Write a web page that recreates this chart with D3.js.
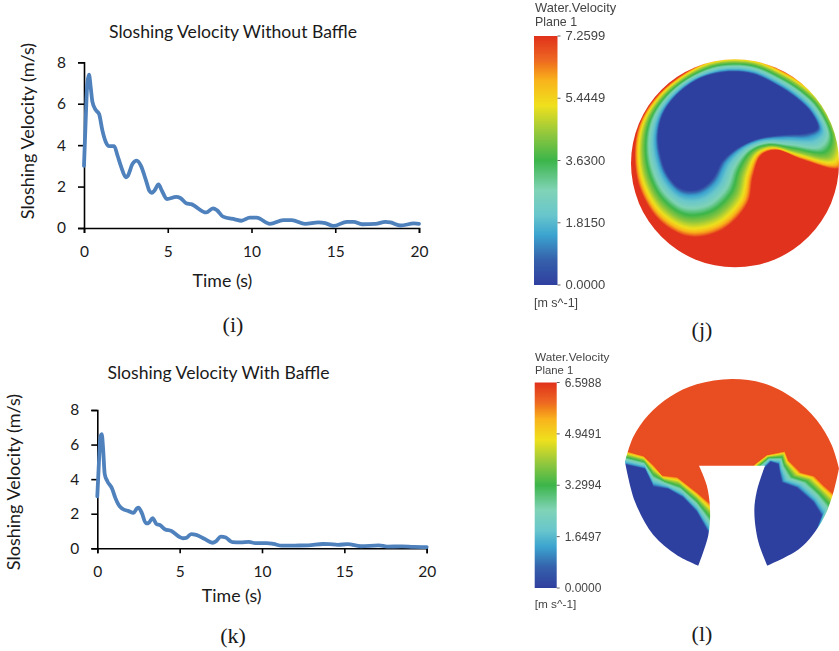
<!DOCTYPE html>
<html><head><meta charset="utf-8">
<script src="https://cdn.jsdelivr.net/npm/d3@7"></script>
<style>html,body{margin:0;padding:0;background:#fff}svg{display:block}</style>
</head><body><svg id="c" width="839" height="651"></svg>
<script>
// ---- line chart data ----
const timeNoBaffle=[0,.1,.2,.3,.4,.5,.7,.9,1.1,1.3,1.5,1.8,2,2.2,2.5,2.6,2.9,3.15,3.4,3.7,3.9,4.05,4.2,4.45,4.65,4.95,5.5,5.75,6.1,6.4,7.3,7.7,7.95,8.3,9,9.4,9.9,10.3,11.1,11.9,12.4,13.2,14,14.4,14.9,15.7,16.1,16.6,17.4,18,18.3,18.9,19.7,20];
const velNoBaffle=[3,5.2,7,7.4,6.8,6.1,5.7,5.5,4.7,4.15,3.95,3.95,3.5,3,2.45,2.5,3.1,3.25,3,2.3,1.8,1.7,1.8,2.1,1.8,1.4,1.5,1.45,1.2,1.15,.75,.95,.85,.55,.42,.35,.5,.5,.2,.38,.38,.2,.27,.24,.1,.3,.3,.18,.2,.3,.27,.12,.22,.2];
const timeBaffle=[0,.1,.2,.27,.35,.45,.6,.9,1.1,1.3,1.5,1.9,2.2,2.4,2.5,2.7,2.95,3.1,3.35,3.6,3.8,4.1,4.5,5,5.2,5.4,5.7,6,6.5,7,7.2,7.5,7.8,8.2,8.7,9.2,9.6,10.3,10.7,11.2,12,12.8,13.7,14.1,14.6,15.2,16,17.1,17.6,18.5,19.2,20];
const velBaffle=[3,5,6.5,6.6,5.8,4.3,3.9,3.45,2.9,2.5,2.3,2.15,2.05,2.3,2.35,2.05,1.45,1.45,1.75,1.4,1.35,1.1,1,.65,.58,.6,.82,.78,.55,.32,.4,.68,.62,.36,.34,.37,.3,.3,.25,.15,.16,.17,.25,.24,.2,.24,.12,.17,.1,.11,.08,.07];
const xTicks=[0,5,10,15,20], yTicks=[0,2,4,6,8];
// ---- colour legend ----
const legendStops=[0,.1,.2,.28,.38,.5,.6,.72,.82,.9,1];
const fieldStops=[0,.05,.12,.24,.4,.54,.68,.82,.9,.96,1];
const legendColors=["#2f3f9f","#3560ab","#3ba3cf","#68c6cc","#80d3b6","#3cb54a","#8cc63f","#efe01e","#f9b41a","#ee6a20","#e0301f"];
const legendJ=["0.0000","1.8150","3.6300","5.4449","7.2599"];
const legendL=["0.0000","1.6497","3.2994","4.9491","6.5988"];
// ---- contour field outlines, plate units ----
const jBlue=[[640,215],[700,222],[770,255],[830,295],[875,340],[893,385],[860,400],[790,405],[720,415],[660,440],[610,480],[575,540],[530,570],[480,565],[440,520],[420,460],[415,400],[430,340],[470,285],[530,240],[590,220]];
const jRed=[[640,172],[715,180],[795,215],[860,255],[915,310],[972,440],[962,505],[850,480],[770,450],[725,465],[700,530],[685,610],[610,690],[510,712],[420,665],[360,570],[343,470],[355,380],[400,300],[470,235],[560,185]];
const lShapePieces=[
 [[537,362],[560,420],[570,490],[565,570],[535,662]],
 [[535,662],[470,630],[400,570],[345,470],[315,350]],
 [[315,350],[340,275],[385,210],[450,155],[530,118],[635,102],[730,115],[820,160],[890,225],[935,300],[957,370]],
 [[957,370],[938,450],[905,530],[840,610],[742,662]],
 [[742,662],[715,590],[703,500],[710,440],[735,362]]];
const lBlueLeft=[[300,355],[375,372],[400,425],[445,432],[490,458],[530,500],[575,580],[575,700],[300,700]];
const lRedLeft=[[300,312],[370,332],[400,358],[425,390],[470,394],[530,440],[585,485],[590,700],[300,700]];
const lBlueRight=[[738,365],[752,350],[775,358],[778,378],[785,412],[830,428],[880,472],[905,512],[880,575],[830,700],[700,700],[690,400]];
const lRedRight=[[703,358],[740,330],[795,318],[806,345],[845,382],[885,392],[912,420],[948,450],[948,500],[912,560],[860,700],[670,400]];

const svg=d3.select("#c");
const sans="Lato, 'Open Sans', sans-serif", serif="'Liberation Serif', serif", arial="'Liberation Sans', sans-serif";
const text=(s,x,y,o={})=>svg.append("text").attr("x",x).attr("y",y).attr("text-anchor",o.anchor||"middle")
  .attr("font-family",o.font||sans).attr("font-size",o.size||15).attr("fill",o.fill||"#1a1a1a")
  .attr("filter",o.blur?"url(#softText)":null)
  .attr("transform",o.rot?`rotate(${o.rot} ${x} ${y})`:null).text(s);

const defs=svg.append("defs");
defs.append("filter").attr("id","soft").attr("x","-5%").attr("y","-5%").attr("width","110%").attr("height","110%")
  .append("feGaussianBlur").attr("stdDeviation",0.7);
defs.append("filter").attr("id","softText").attr("x","-5%").attr("y","-20%").attr("width","110%").attr("height","140%")
  .append("feGaussianBlur").attr("stdDeviation",0.4);

function lineChart(o){
  const x=d3.scaleLinear().domain([0,20]).range([o.x0,o.x1]);
  const y=d3.scaleLinear().domain([0,8]).range([o.y0,o.y1]);
  const style=g=>{g.selectAll("path,line").attr("stroke","#000").attr("stroke-width",1.6);
    g.selectAll("text").attr("font-family",sans).attr("font-size",15.5).attr("fill","#1a1a1a");};
  svg.append("g").attr("transform",`translate(0,${o.y0})`)
    .call(d3.axisBottom(x).tickValues(xTicks).tickSize(5).tickPadding(13)).call(style);
  svg.append("g").attr("transform",`translate(${o.x0},0)`)
    .call(d3.axisLeft(y).tickValues(yTicks).tickSize(6).tickPadding(12)).call(style);
  svg.append("path").attr("fill","none").attr("stroke","#4f81bd").attr("stroke-width",3.8)
    .attr("stroke-linejoin","round").attr("stroke-linecap","round")
    .attr("d",d3.line().x((d,i)=>x(o.t[i])).y(d=>y(d)).curve(d3.curveMonotoneX)(o.v));
}
lineChart({x0:84,x1:419,y0:228,y1:62.3,t:timeNoBaffle,v:velNoBaffle});
lineChart({x0:97.3,x1:426.7,y0:548.3,y1:410,t:timeBaffle,v:velBaffle});

text("Sloshing Velocity Without Baffle",233,38,{size:17.6});
text("Time (s)",222.5,287,{size:17.8});
text("Sloshing Velocity (m/s)",34,131,{size:18,rot:-90});
text("Sloshing Velocity With Baffle",218.5,379,{size:17.6});
text("Time (s)",231.7,602,{size:17.8});
text("Sloshing Velocity (m/s)",20,482,{size:18,rot:-90});
text("(i)",233,332,{font:serif,size:22});
text("(k)",233,643,{font:serif,size:22});
text("(j)",702,337,{font:serif,size:22});
text("(l)",702,641,{font:serif,size:22});

// ---- shared colour scale and defs ----
const fieldColor=d3.scaleLinear().domain(fieldStops).range(legendColors);
const grad=defs.append("linearGradient").attr("id","bar").attr("x1",0).attr("x2",0).attr("y1",1).attr("y2",0);
legendStops.forEach((s,i)=>grad.append("stop").attr("offset",s).attr("stop-color",legendColors[i]));

function legend(o){
  const y=d3.scaleLinear().domain([0,4]).range([o.y0,o.y1]);
  svg.append("rect").attr("x",o.x).attr("y",o.y1).attr("width",o.w).attr("height",o.y0-o.y1)
    .attr("fill","url(#bar)").attr("filter","url(#soft)");
  o.labels.forEach((l,i)=>{
    svg.append("line").attr("x1",o.x+o.w).attr("x2",o.x+o.w+3).attr("y1",y(i)).attr("y2",y(i)).attr("stroke","#666");
    text(l,o.x+o.w+8,y(i)+4,{anchor:"start",font:arial,size:o.ls,fill:"#444",blur:1});
  });
  text("Water.Velocity",o.tx,o.ty,{anchor:"start",font:arial,size:o.ts,fill:"#444",blur:1});
  text("Plane 1",o.tx,o.ty+o.tl,{anchor:"start",font:arial,size:o.ts-0.5,fill:"#444",blur:1});
  text("[m s^-1]",o.x,o.y0+o.ub,{anchor:"start",font:arial,size:o.us,fill:"#444",blur:1});
}
legend({x:534,w:23.5,y0:285,y1:36,labels:legendJ,tx:535,ty:12,ts:12.9,tl:13.5,ub:22,ls:13,us:12.5});
legend({x:534.7,w:22,y0:588,y1:382.5,labels:legendL,tx:535,ty:361,ts:11.8,tl:12.5,ub:20,ls:12,us:11.8});

// ---- contour panels ----
const px=d3.scaleLinear().domain([0,957]).range([520,839]);
const pyJ=d3.scaleLinear().domain([0,1035]).range([0,345]);
const pyL=d3.scaleLinear().domain([0,918]).range([345,651]);
const steps=d3.range(1,-0.001,-1/48);
function bands(g,a,b,py,curve,top){
  const ln=d3.line().x(d=>px(d[0])).y(d=>py(d[1])).curve(curve);
  steps.forEach(t=>{
    const pts=a.map((p,i)=>[p[0]+(b[i][0]-p[0])*t,p[1]+(b[i][1]-p[1])*t]);
    g.append("path").attr("d",ln(pts)).attr("fill",t>=0.999?top:fieldColor(t));
  });
}
// (j)
const cx=px(645), cy=pyJ(490), rad=px(957)-px(645);
defs.append("clipPath").attr("id","discJ").append("circle").attr("cx",cx).attr("cy",cy).attr("r",rad);
const gJ=svg.append("g").attr("clip-path","url(#discJ)").append("g").attr("filter","url(#soft)");
gJ.append("rect").attr("x",cx-rad-5).attr("y",cy-rad-5).attr("width",2*rad+10).attr("height",2*rad+10).attr("fill","#e0331e");
bands(gJ,jBlue,jRed,pyJ,d3.curveCatmullRomClosed,"#e0331e");
// (l)
const lp=d3.line().x(d=>px(d[0])).y(d=>pyL(d[1])).curve(d3.curveCatmullRom);
const shape=lShapePieces.map((p,i)=>{const s=lp(p);return i?s.replace(/^M[^CL]*/,""):s;}).join("")+"Z";
defs.append("clipPath").attr("id","discL").append("path").attr("d",shape);
const gL=svg.append("g").attr("clip-path","url(#discL)").append("g").attr("filter","url(#soft)");
gL.append("rect").attr("x",600).attr("y",345).attr("width",239).attr("height",306).attr("fill","#e94e20");
bands(gL,lBlueLeft,lRedLeft,pyL,d3.curveLinearClosed,"#e94e20");
bands(gL,lBlueRight,lRedRight,pyL,d3.curveLinearClosed,"#e94e20");
</script></body></html>
